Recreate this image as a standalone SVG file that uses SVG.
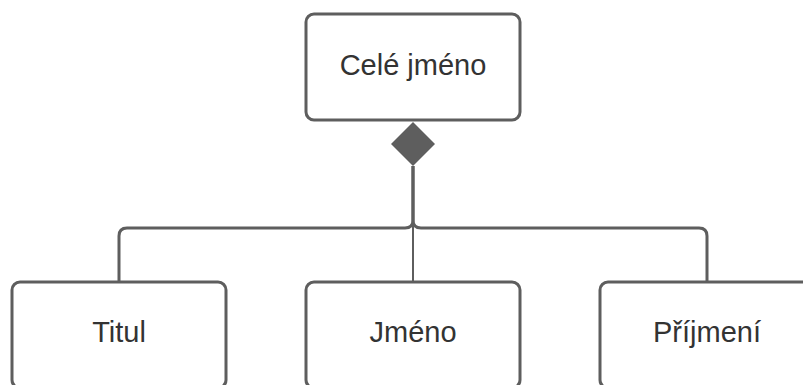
<svg xmlns="http://www.w3.org/2000/svg" width="803" height="385" viewBox="0 0 803 385">
  <style>
    .box { fill: #ffffff; stroke: #5e5e5e; stroke-width: 3; }
    .label { font-family: "Liberation Sans", Arial, sans-serif; font-size: 29px; fill: #333333; text-anchor: middle; dominant-baseline: central; }
    .wire { fill: none; stroke: #5e5e5e; stroke-width: 3; }
    .wire-thin { fill: none; stroke: #5e5e5e; stroke-width: 2; }
  </style>
  <rect width="803" height="385" fill="#ffffff"/>

  <g id="connectors">
    <path class="wire" d="M413,166 V220 Q413,228 405,228 H127 Q119,228 119,236 V282"/>
    <path class="wire" d="M413,166 V220 Q413,228 421,228 H699 Q707,228 707,236 V282"/>
    <path class="wire-thin" d="M413,220 V282"/>
    <polygon fill="#5e5e5e" points="413,122 435,144 413,166 391,144"/>
  </g>

  <g id="node-cele-jmeno">
    <rect class="box" x="306" y="14" width="214" height="106" rx="8"/>
    <text class="label" x="413" y="65">Celé jméno</text>
  </g>

  <g id="node-titul">
    <rect class="box" x="12" y="282" width="214" height="106" rx="8"/>
    <text class="label" x="119" y="332">Titul</text>
  </g>

  <g id="node-jmeno">
    <rect class="box" x="306" y="282" width="214" height="106" rx="8"/>
    <text class="label" x="413" y="332">Jméno</text>
  </g>

  <g id="node-prijmeni">
    <rect class="box" x="600" y="282" width="214" height="106" rx="8"/>
    <text class="label" x="707" y="332">Příjmení</text>
  </g>
</svg>
